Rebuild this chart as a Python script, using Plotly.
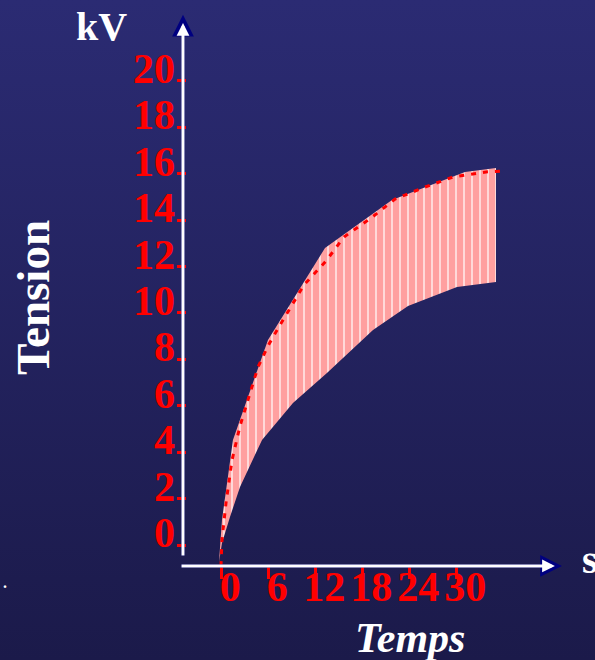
import base64
import plotly.graph_objects as go

# ---------------- data ----------------
# time in s, tension in kV
upper_t = [-0.38, 0.0, 1.40, 5.87, 13.15, 21.70, 31.02, 34.98]
upper_v = [-0.73, 1.08, 4.53, 8.84, 12.80, 14.87, 16.08, 16.25]

lower_t = [-0.38, 0.0, 1.02, 2.30, 5.11, 9.06, 13.40, 19.28, 23.75, 30.00, 34.98]
lower_v = [-0.73, 0.09, 1.21, 2.50, 4.53, 6.12, 7.41, 9.27, 10.30, 11.12, 11.34]

dash_t = [-0.13, 0.0, 0.51, 1.28, 2.30, 3.45, 4.60, 5.87, 7.40, 10.47, 13.28,
          15.58, 19.02, 22.09, 25.92, 29.49, 33.70, 35.75]
dash_v = [-0.91, 0.22, 1.81, 3.66, 5.13, 6.38, 7.67, 8.58, 9.48, 11.21, 12.24,
          13.28, 14.09, 14.91, 15.43, 15.86, 16.08, 16.12]

x_ticks = [0, 6, 12, 18, 24, 30]
x_tick_labels = ["0", "6", "12", "18", "24", "30"]
y_ticks = [0, 2, 4, 6, 8, 10, 12, 14, 16, 18, 20]
y_tick_labels = [str(v) for v in y_ticks]

# ---------------- style ----------------
W, H = 595, 660
BG_TOP = "#2B2B73"
BG_BOTTOM = "#1B1A4A"
RED = "#FF0000"
PINK = "#FFA0A0"
SERIF = "Liberation Serif"

X_RANGE = [-28.34, 47.62]
Y_RANGE = [-4.957, 23.491]
X_AXIS_V = -0.905      # level of the drawn time axis
Y_AXIS_T = -4.98       # position of the drawn tension axis

fig = go.Figure()

# striped band
band_t = upper_t + lower_t[::-1]
band_v = upper_v + lower_v[::-1]
fig.add_trace(go.Scatter(
    x=band_t, y=band_v, mode="lines", fill="toself",
    line=dict(width=0, color=PINK),
    fillcolor="white",
    fillpattern=dict(shape="|", fgcolor=PINK, bgcolor="white", fgopacity=1,
                     size=8, solidity=0.85),
    hoverinfo="skip",
))

# dashed red curve
fig.add_trace(go.Scatter(
    x=dash_t, y=dash_v, mode="lines",
    line=dict(color=RED, width=3, dash="5px,7px"),
    hoverinfo="skip",
))

# empty traces to activate the label axes
fig.add_trace(go.Scatter(x=[], y=[], xaxis="x2", yaxis="y", hoverinfo="skip"))
fig.add_trace(go.Scatter(x=[], y=[], xaxis="x", yaxis="y2", hoverinfo="skip"))

label_font = dict(family=SERIF, size=42, color=RED, weight="bold")

fig.update_layout(
    width=W, height=H, autosize=False,
    margin=dict(l=0, r=0, t=0, b=0, pad=0),
    paper_bgcolor=BG_BOTTOM,
    plot_bgcolor="rgba(0,0,0,0)",
    showlegend=False,
    xaxis=dict(range=X_RANGE, anchor="free", position=1 - 566 / H,
               tickvals=x_ticks, showticklabels=False,
               ticks="outside", ticklen=12, tickwidth=3, tickcolor=RED,
               showgrid=False, zeroline=False, showline=False, fixedrange=True),
    yaxis=dict(range=Y_RANGE, anchor="free", position=186 / W,
               tickvals=y_ticks, showticklabels=False,
               ticks="outside", ticklen=9, tickwidth=3, tickcolor=RED,
               showgrid=False, zeroline=False, showline=False, fixedrange=True),
    xaxis2=dict(range=[X_RANGE[0] - 1.05, X_RANGE[1] - 1.05], overlaying="x",
                anchor="free", position=1 - 558 / H,
                tickvals=x_ticks, ticktext=x_tick_labels, tickangle=0,
                tickfont=label_font, ticks="", showgrid=False, zeroline=False,
                showline=False, fixedrange=True),
    yaxis2=dict(range=[Y_RANGE[0] - 0.55, Y_RANGE[1] - 0.55], overlaying="y",
                anchor="free", position=175 / W, side="left",
                tickvals=y_ticks, ticktext=y_tick_labels,
                tickfont=label_font, ticks="", showgrid=False, zeroline=False,
                showline=False, fixedrange=True),
)

# gradient background
svg = (f'<svg xmlns="http://www.w3.org/2000/svg" width="{W}" height="{H}">'
       '<defs><linearGradient id="g" x1="0" y1="0" x2="0" y2="1">'
       f'<stop offset="0" stop-color="{BG_TOP}"/><stop offset="1" stop-color="{BG_BOTTOM}"/>'
       '</linearGradient></defs>'
       f'<rect width="{W}" height="{H}" fill="url(#g)"/></svg>')
fig.add_layout_image(dict(
    source="data:image/svg+xml;base64," + base64.b64encode(svg.encode()).decode(),
    xref="paper", yref="paper", x=0, y=1, sizex=1, sizey=1,
    xanchor="left", yanchor="top", sizing="stretch", layer="below",
))

# axis arrows (navy outline under white)
def arrow(tip_x, tip_y, tail_x, tail_y, color, size):
    fig.add_annotation(x=tip_x, y=tip_y, ax=tail_x, ay=tail_y,
                       xref="x", yref="y", axref="x", ayref="y",
                       text="", showarrow=True, arrowhead=2, arrowsize=size,
                       arrowwidth=3, arrowcolor=color, standoff=0, startstandoff=0)

arrow(Y_AXIS_T, 22.85, Y_AXIS_T, -0.52, "#000080", 1.45)
arrow(Y_AXIS_T, 22.50, Y_AXIS_T, -0.52, "white", 0.85)
arrow(43.4, X_AXIS_V, -5.36, X_AXIS_V, "#000080", 1.45)
arrow(42.5, X_AXIS_V, -5.36, X_AXIS_V, "white", 0.85)

def text(s, px, py, size, angle=0, italic=False, xanchor="center"):
    fig.add_annotation(x=px / W, y=1 - py / H, xref="paper", yref="paper",
                       text=s, showarrow=False, textangle=angle,
                       xanchor=xanchor, yanchor="middle",
                       font=dict(family=SERIF, size=size, color="white", weight="bold",
                                 style="italic" if italic else "normal"))

text("kV", 101, 27, 40)
text("Tension", 33, 298, 47, angle=-90)
text("Temps", 410, 638, 42, italic=True)
text("s", 580, 559, 40, xanchor="left")
text(".", 5, 582, 16)

fig.write_html(
    "out.html",
    config={"displayModeBar": False, "staticPlot": True},
    post_script="document.body.style.margin='0px';document.body.style.padding='0px';"
                "document.body.style.overflow='hidden';",
)
